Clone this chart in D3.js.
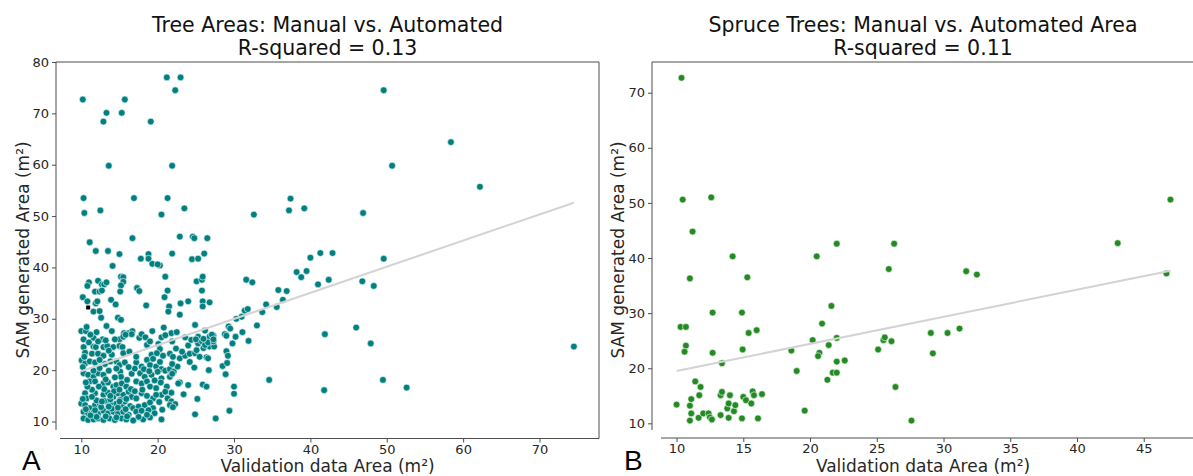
<!DOCTYPE html>
<html>
<head>
<meta charset="utf-8">
<script src="https://cdn.jsdelivr.net/npm/d3@7"></script>
<style>
  body { margin: 0; background: #fff; }
  svg { display: block; font-family: "DejaVu Sans", sans-serif; }
  .tick text { fill: #262626; }
</style>
</head>
<body>
<div id="chart"></div>
<script>
// --- data ---
const treePoints = [
  [21.2,77.0],[23.0,77.0],[22.3,74.5],[49.6,74.5],[10.2,72.7],[15.7,72.7],[13.3,70.1],[15.3,70.1],[12.9,68.4],[19.1,68.4],
  [58.4,64.4],[13.6,59.8],[21.9,59.8],[50.7,59.8],[62.2,55.7],[10.3,53.5],[16.9,53.5],[21.3,53.5],[37.4,53.4],[10.4,50.6],
  [12.5,51.1],[20.5,50.3],[23.5,51.5],[32.6,50.3],[37.2,51.1],[39.2,51.5],[46.9,50.6],[11.1,44.9],[16.7,45.7],[22.9,46.0],
  [24.6,46.0],[24.8,45.7],[26.5,45.7],[11.9,43.2],[13.5,43.2],[15.0,42.6],[18.8,42.6],[21.9,42.7],[17.8,41.7],[18.8,41.7],
  [19.3,40.7],[20.3,40.4],[20.0,40.6],[14.1,40.3],[24.5,41.6],[25.3,41.7],[26.1,42.7],[40.0,41.9],[41.3,42.8],[42.9,42.8],
  [49.6,41.7],[38.2,39.1],[39.5,39.3],[38.8,38.1],[41.0,36.7],[42.4,37.6],[46.8,37.3],[48.3,36.4],[31.6,37.6],[32.4,37.1],
  [35.8,35.6],[36.9,35.4],[36.4,33.7],[34.2,32.8],[35.6,32.3],[33.7,31.3],[31.4,31.6],[31.8,31.9],[30.3,30.0],[31.0,30.4],
  [33.0,28.7],[29.3,28.5],[29.5,28.1],[31.1,27.4],[30.2,26.5],[31.9,25.7],[29.8,25.2],[28.8,27.0],[29.0,23.7],[29.2,22.8],
  [28.5,20.8],[29.1,21.4],[28.9,19.2],[34.6,18.1],[30.0,16.8],[30.0,15.4],[29.4,12.1],[27.6,10.6],[41.9,27.0],[46.0,28.3],
  [47.9,25.2],[74.5,24.6],[49.5,18.1],[41.8,16.1],[52.6,16.6],
  [15.2,38.2],[15.5,38.1],[15.5,37.2],[15.2,36.5],[15.1,35.3],[21.0,38.2],[11.0,37.1],[10.8,36.4],[12.2,37.4],[12.7,36.7],
  [13.0,36.7],[13.3,37.1],[11.8,35.3],[12.4,35.3],[12.7,35.5],[17.3,36.0],[17.6,35.4],[21.3,35.5],[20.9,34.2],[23.0,33.0],
  [10.2,34.2],[10.8,33.4],[11.9,33.0],[12.1,33.4],[11.6,31.4],[12.4,31.5],[13.9,33.7],[14.5,32.8],[18.5,32.6],[21.5,32.4],
  [21.4,31.4],[12.6,30.2],[14.8,30.2],[15.2,29.8],[13.3,28.6],[10.0,27.6],[10.6,27.6],[10.7,28.4],[15.6,27.2],[16.2,27.2],
  [16.7,27.6],[19.3,27.6],[20.8,28.3],[21.8,27.2],
  [25.1,37.3],[25.8,37.6],[25.9,38.2],[25.8,35.5],[25.9,33.4],[25.9,32.4],[26.8,33.2],[24.0,33.4],[22.9,30.8],[24.9,28.8],
  [26.2,27.7],[29.0,26.7],[25.3,26.5],[26.8,26.5],[27.3,26.7],
  [10.3,26.0],[11.6,26.3],[12.8,26.0],[15.0,26.0],[15.5,26.5],[17.6,26.3],[16.6,27.0],[15.8,26.9],[20.1,25.1],[21.9,25.6],
  [24.8,20.5],[26.7,20.0],[22.9,17.6],[24.0,17.1],[23.4,15.3],[25.9,17.2],[26.4,16.8],[25.2,14.4],[24.9,11.4],
  [22.9,22.3],[23.6,22.8],[24.2,23.2],[24.9,23.3],[25.1,23.9],[26.0,24.3],[26.8,24.6],[27.4,24.6],[25.3,25.2],[25.8,25.6],
  [26.2,24.9],[26.6,25.4],[27.3,25.6],[25.5,22.6],[26.4,22.5],[26.6,22.3],[27.1,26.9],[27.3,26.0],
  [10.3,24.5],[11.6,24.6],[11.9,24.5],[12.9,24.5],[13.4,24.7],[14.2,24.5],[15.0,24.7],[15.4,24.5],
  [10.5,23.4],[11.4,23.2],[12.2,23.2],[12.9,22.8],[14.0,23.0],[15.5,23.3],[18.6,24.9],[20.3,24.1],[19.2,23.0],[19.9,23.3],
  [20.7,22.8],[21.6,23.2],[22.0,22.6],[18.6,22.0],
  [10.05,21.9],[10.5,21.3],[11.1,21.7],[11.8,21.5],[13.1,21.2],[13.8,21.7],[14.6,21.7],[15.0,21.0],[15.7,21.5],[17.2,21.5],
  [17.9,20.7],[19.0,21.0],[19.8,20.7],[20.5,20.2],[21.0,19.9],[21.6,20.2],[22.1,19.7],[22.6,20.7],
  [10.3,19.4],[10.9,19.1],[11.6,18.7],[12.2,19.4],[12.9,19.1],[15.1,19.7],[15.2,18.7],[16.6,19.3],[17.7,19.4],[18.3,18.7],
  [19.2,19.1],[20.0,19.7],[20.5,18.4],[21.6,18.7],[22.7,17.4],
  [11.1,17.8],[11.8,17.8],[12.9,17.4],[13.5,17.6],[14.2,16.8],[14.6,17.1],[15.3,17.4],[15.9,16.8],[17.2,17.8],[17.9,17.4],
  [18.6,17.8],[19.0,16.8],[19.8,16.5],[21.2,16.8],[21.8,15.6],
  [10.5,15.5],[10.7,14.5],[11.8,15.5],[12.9,15.2],[13.5,15.6],[14.2,14.8],[14.8,15.5],[15.5,15.2],[16.2,15.8],[16.6,14.8],
  [17.2,14.5],[17.9,15.5],[18.6,15.0],[19.4,14.5],[20.5,15.2],[21.3,14.5],[21.8,13.9],
  [10.0,13.5],[10.5,13.2],[11.1,12.6],[11.8,13.2],[12.4,13.5],[13.3,13.9],[14.0,13.2],[14.6,13.5],[15.3,13.2],[15.7,13.9],
  [16.4,13.0],[16.8,12.6],[17.5,12.9],[18.3,13.2],[19.0,13.7],[19.4,12.6],
  [10.3,11.9],[10.9,11.6],[11.6,11.7],[12.2,11.5],[12.9,12.1],[13.5,11.6],[14.2,11.9],[14.8,11.5],[15.5,11.9],[16.2,11.3],
  [17.2,11.9],[17.9,12.1],[18.8,12.2],[19.6,11.6],
  [10.3,10.6],[10.9,10.3],[11.6,10.4],[12.2,10.6],[12.9,10.3],[13.7,10.6],[14.4,10.3],[15.3,10.6],[15.9,10.4],[18.1,10.4],
  [19.0,10.8],[20.5,10.4],
  [21.9,21.2],[21.9,19.3],[20.4,17.6],[21.0,15.8],[22.3,13.4],[21.6,13.2],[20.6,12.3],[22.0,12.8],
  [13.0,14.0],[13.8,14.3],[14.3,15.9],[15.0,16.2],[14.0,12.5],[13.6,12.9],[12.6,12.8],[12.0,14.1],[11.4,14.8],[15.8,12.4],
  [15.1,14.2],[13.0,16.3],[12.3,16.8],[11.4,16.2],[14.8,12.7],[15.9,14.4],[16.5,16.3],[17.0,15.9],[16.0,11.0],[14.6,10.8],
  [13.2,11.0],[12.0,10.9],[11.2,11.2],[10.6,12.4],[10.2,14.4],[10.8,16.8],[11.6,19.9],[12.4,20.4],[13.6,19.9],[14.4,18.6],
  [13.2,18.2],[16.0,18.1],[17.0,20.3],[18.2,20.2],[18.9,19.8],[19.6,18.0],[20.3,21.6],[19.4,22.2],[17.2,22.6],[16.3,23.6],
  [13.6,23.8],[12.4,22.0],[14.6,20.3],[16.2,20.6],[18.0,16.2],[19.8,15.2],[20.2,13.8],[18.6,11.3],[17.5,10.9],[16.8,10.2],
  [15.0,13.9],[13.8,15.0],[12.7,13.9],[11.8,12.2],[10.6,17.6],[10.2,20.6],[10.4,22.6],[11.0,25.4],[12.2,25.6],[13.2,25.8],
  [14.4,26.0],[14.0,27.6],[12.0,27.4],[11.2,26.9],[17.9,27.0],[18.4,26.4],[19.0,25.6],[20.5,26.4],[21.0,26.8],[22.4,24.2],
  [23.2,23.6],[24.0,24.8],[24.4,25.9],[25.0,26.0],[26.0,26.1],[23.6,26.4],[22.5,27.4],[24.2,21.6]
];
const treeFlagged = [[10.9, 32.2]];   // the small black square
const treeFitX = [10.0, 74.5];
const treeFitY = [19.8, 52.6];

const sprucePoints = [
  [10.37,72.7],[10.46,50.6],[12.6,51.0],[11.2,44.8],[14.2,40.3],[11.0,36.3],[15.3,36.5],[12.7,30.1],[14.9,30.1],
  [10.3,27.5],[10.7,27.5],[15.4,26.4],[16.0,26.9],[10.7,24.1],[10.6,23.0],[12.7,22.8],[14.95,23.4],[13.4,20.9],
  [10.0,13.4],[11.4,17.6],[11.8,16.6],[11.7,15.1],[11.1,14.4],[11.0,13.2],[11.1,11.8],[11.0,10.5],[11.65,11.0],
  [12.0,11.8],[12.4,11.8],[12.5,11.1],[12.65,10.7],[13.3,11.5],[13.9,11.0],[13.8,12.7],[13.9,13.6],[14.0,15.1],
  [13.3,15.1],[13.4,15.7],[14.3,12.2],[14.4,13.3],[14.9,10.9],[15.0,14.8],[15.2,14.2],[15.6,13.6],[15.7,15.8],
  [15.8,15.1],[16.1,10.9],[16.4,15.3],[18.6,23.2],[19.0,19.5],[19.6,12.3],[20.2,25.1],[20.5,40.3],[20.7,22.8],
  [20.6,22.2],[20.9,28.1],[21.4,24.2],[21.3,17.9],[21.6,31.3],[21.7,19.2],[22.0,19.2],[22.0,42.6],[22.0,25.5],
  [22.0,21.2],[22.6,21.4],[25.1,23.4],[25.5,25.1],[25.6,25.6],[25.9,38.0],[26.1,24.9],[26.3,42.6],[26.4,16.6],
  [27.6,10.5],[29.05,26.4],[29.2,22.7],[30.3,26.4],[31.2,27.2],[31.7,37.6],[32.5,37.0],[43.05,42.7],[46.7,37.2],
  [47.0,50.6]
];
const spruceFitX = [10.0, 47.0];
const spruceFitY = [19.5, 37.7];

const treeXTicks = [10, 20, 30, 40, 50, 60, 70];
const treeYTicks = [10, 20, 30, 40, 50, 60, 70, 80];
const spruceXTicks = [10, 15, 20, 25, 30, 35, 40, 45];
const spruceYTicks = [10, 20, 30, 40, 50, 60, 70];

const titles = [
  ["Tree Areas: Manual vs. Automated", "R-squared = 0.13"],
  ["Spruce Trees: Manual vs. Automated Area", "R-squared = 0.11"]
];
const xLabel = "Validation data Area (m\u00B2)";
const yLabel = "SAM generated Area (m\u00B2)";
const panelLetters = ["A", "B"];

// --- drawing ---
const W = 1193, H = 476;
const svg = d3.select("#chart").append("svg").attr("width", W).attr("height", H);

function drawPanel(cfg) {
  const g = svg.append("g");
  const x = d3.scaleLinear().domain(cfg.xDomain).range([cfg.left, cfg.right]);
  const y = d3.scaleLinear().domain(cfg.yDomain).range([cfg.bottom, cfg.top]);

  // clip so points never leave the frame
  const clipId = "clip" + cfg.id;
  svg.append("clipPath").attr("id", clipId).append("rect")
    .attr("x", cfg.left).attr("y", cfg.top)
    .attr("width", cfg.right - cfg.left).attr("height", cfg.bottom - cfg.top);

  const spine = "#4d4d4d";
  const xAxis = d3.axisBottom(x).tickValues(cfg.xTicks).tickSize(4).tickSizeOuter(0).tickPadding(2);
  const yAxis = d3.axisLeft(y).tickValues(cfg.yTicks).tickSize(4).tickSizeOuter(0).tickPadding(3);

  const gx = g.append("g").attr("transform", `translate(0,${cfg.bottomSpine})`).call(xAxis);
  const gy = g.append("g").attr("transform", `translate(${cfg.left},0)`).call(yAxis);
  [gx, gy].forEach(a => {
    a.select(".domain").remove();
    a.selectAll(".tick line").attr("stroke", spine);
    a.selectAll(".tick text").style("font-size", "13px").style("font-family", "DejaVu Sans");
  });

  // spines (left one stops short of the bottom, as in the figure)
  g.append("line").attr("x1", cfg.left).attr("x2", cfg.left).attr("y1", cfg.top).attr("y2", cfg.leftSpineEnd).attr("stroke", spine);
  g.append("line").attr("x1", cfg.bottomSpineStart).attr("x2", cfg.right).attr("y1", cfg.bottomSpine).attr("y2", cfg.bottomSpine).attr("stroke", spine);
  g.append("line").attr("x1", cfg.left).attr("x2", cfg.right).attr("y1", cfg.top).attr("y2", cfg.top).attr("stroke", spine);
  if (cfg.rightSpine) g.append("line").attr("x1", cfg.right).attr("x2", cfg.right).attr("y1", cfg.top).attr("y2", cfg.bottomSpine).attr("stroke", spine);

  const plot = g.append("g").attr("clip-path", `url(#${clipId})`);
  plot.selectAll("circle").data(cfg.points).enter().append("circle")
    .attr("cx", d => x(d[0])).attr("cy", d => y(d[1])).attr("r", 3.4)
    .attr("fill", cfg.color).attr("stroke", "#fff").attr("stroke-width", 0.6);

  if (cfg.flagged) {
    plot.selectAll("rect.flag").data(cfg.flagged).enter().append("rect").attr("class", "flag")
      .attr("x", d => x(d[0]) - 2).attr("y", d => y(d[1]) - 2).attr("width", 4).attr("height", 4).attr("fill", "#000");
  }

  const fit = d3.zip(cfg.fitX, cfg.fitY);
  plot.append("path").datum(fit)
    .attr("d", d3.line().x(d => x(d[0])).y(d => y(d[1])))
    .attr("fill", "none").attr("stroke", "#d3d3d3").attr("stroke-width", 2);

  const cx = (cfg.left + cfg.titleRight) / 2;
  g.append("text").attr("x", cx).attr("y", 31.5).attr("text-anchor", "middle")
    .style("font-size", "20.5px").attr("fill", "#111").text(cfg.title[0]);
  g.append("text").attr("x", cx).attr("y", 54.5).attr("text-anchor", "middle")
    .style("font-size", "20.5px").attr("fill", "#111").text(cfg.title[1]);

  g.append("text").attr("x", cx).attr("y", 472).attr("text-anchor", "middle")
    .style("font-size", "17px").attr("fill", "#262626").text(xLabel);
  g.append("text").attr("transform", `translate(${cfg.yLabelX},250) rotate(-90)`).attr("text-anchor", "middle")
    .style("font-size", "17px").attr("fill", "#262626").text(yLabel);

  g.append("text").attr("x", cfg.letterX).attr("y", 470)
    .style("font-family", "Liberation Sans").style("font-size", "28px").attr("fill", "#000").text(cfg.letter);
}

drawPanel({
  id: "A", left: 56, right: 599, top: 62, bottom: 438, titleRight: 599,
  bottomSpine: 438.5, bottomSpineStart: 60, leftSpineEnd: 430, rightSpine: true,
  xDomain: [6.69, 77.79], yDomain: [6.79, 80.0],
  xTicks: treeXTicks, yTicks: treeYTicks,
  points: treePoints, flagged: treeFlagged, fitX: treeFitX, fitY: treeFitY,
  color: "#008080", title: titles[0], yLabelX: 29, letter: panelLetters[0], letterX: 22
});

drawPanel({
  id: "B", left: 652, right: 1193, top: 62, bottom: 438, titleRight: 1194,
  bottomSpine: 438, bottomSpineStart: 661, leftSpineEnd: 430, rightSpine: false,
  xDomain: [8.16, 48.69], yDomain: [7.34, 75.57],
  xTicks: spruceXTicks, yTicks: spruceYTicks,
  points: sprucePoints, fitX: spruceFitX, fitY: spruceFitY,
  color: "#228b22", title: titles[1], yLabelX: 624, letter: panelLetters[1], letterX: 624
});
</script>
</body>
</html>
